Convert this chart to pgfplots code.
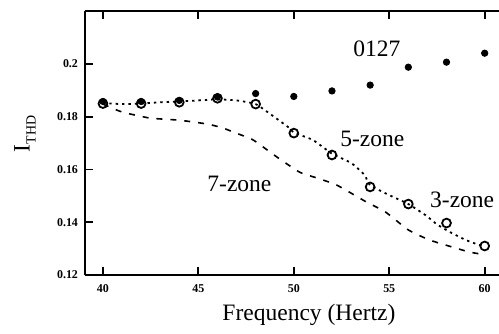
\documentclass[border=0pt]{standalone}
\usepackage{fontspec}
\setmainfont{Liberation Serif}
\usepackage{pgfplots}
\pgfplotsset{compat=1.18}
\begin{document}
\begin{tikzpicture}
\begin{axis}[
  scale only axis, width=207bp, height=132bp,
  xmin=39.06, xmax=60.75, ymin=0.12, ymax=0.2201,
  axis x line*=box, axis y line*=left,
  axis line style={line width=1.1pt},
  xtick={40,45,50,55,60}, ytick={0.12,0.14,0.16,0.18,0.2},
  xticklabels={40,45,50,55,60}, yticklabels={0.12,0.14,0.16,0.18,0.2},
  scaled y ticks=false,
  tick style={line width=0.9pt, black},
  major tick length=4bp,
  tick label style={font=\fontsize{6}{7}\selectfont\bfseries},
  xticklabel style={yshift=-1.5bp},
  clip=false,
]
% 0127
\addplot[only marks, mark=*, mark size=1.6bp, black] coordinates {
(40,0.1858) (42,0.1858) (44,0.1862) (46,0.1875) (48,0.1888) (50,0.1877)
(52,0.1898) (54,0.1920) (56,0.1988) (58,0.2007) (60,0.2041)};
% 5-zone
\addplot[black, line width=0.9pt, dash pattern=on 1.2pt off 2pt, smooth, tension=0.3] coordinates {
(40,0.1852) (41,0.1848) (42,0.1850) (43,0.1855) (44,0.1858) (45,0.1862) (46,0.1866) (47,0.1862)
(48,0.1848) (48.85,0.1806) (49.7,0.1761) (50,0.1740) (51,0.1712) (52,0.1660) (53,0.1625)
(53.7,0.1580) (54,0.1540) (55,0.1503) (56,0.1469) (56.9,0.1427) (57.5,0.1392) (58.2,0.1362)
(59,0.1333) (59.7,0.1314) (60,0.1310)};
% 7-zone
\addplot[black, line width=0.8pt, dash pattern=on 3pt off 4pt, smooth, tension=0.3] coordinates {
(40,0.1848) (41,0.1818) (42.46,0.1795) (44,0.1787) (45.5,0.1772) (46.3,0.1757) (46.9,0.1740)
(47.8,0.1715) (48.4,0.1685) (49.2,0.1643) (50.3,0.1590) (51.2,0.1568) (52.25,0.1541)
(53.8,0.1477) (54.8,0.1439) (56,0.1371) (57.1,0.1333) (58.3,0.1306) (59.2,0.1287) (59.75,0.1280)};
% 3-zone
\addplot[only marks, mark=o, mark size=2.2bp, mark options={line width=0.9pt}, black] coordinates {
(40,0.1850) (42,0.1850) (44,0.1855) (46,0.1870) (48,0.1848) (50,0.1738) (52,0.1655)
(54,0.1534) (56,0.1469) (58,0.1397) (60,0.1310)};
\node[font=\fontsize{11.8}{14}\selectfont] at (axis cs:54.35,0.2057) {0127};
\node[font=\fontsize{11.8}{14}\selectfont] at (axis cs:54.11,0.1717) {5-zone};
\node[font=\fontsize{11.8}{14}\selectfont] at (axis cs:47.15,0.1545) {7-zone};
\node[font=\fontsize{11.8}{14}\selectfont] at (axis cs:58.82,0.1486) {3-zone};
\node[font=\fontsize{11.8}{14}\selectfont, anchor=base, yshift=-22.5bp] at (rel axis cs:0.541,0) {Frequency (Hertz)};
\node[font=\fontsize{11.8}{14}\selectfont, xshift=-30bp, rotate=90, anchor=center] at (rel axis cs:0,0.534) {I\raisebox{-3bp}{\fontsize{7}{8}\selectfont THD}};
\coordinate (bl) at (rel axis cs:0,0);
\coordinate (tr) at (rel axis cs:1,1);
\end{axis}
\pgfresetboundingbox
\path[use as bounding box] ([xshift=-42.5bp,yshift=-29.5bp]bl) rectangle ([yshift=5.5bp]tr);
\end{tikzpicture}
\end{document}
